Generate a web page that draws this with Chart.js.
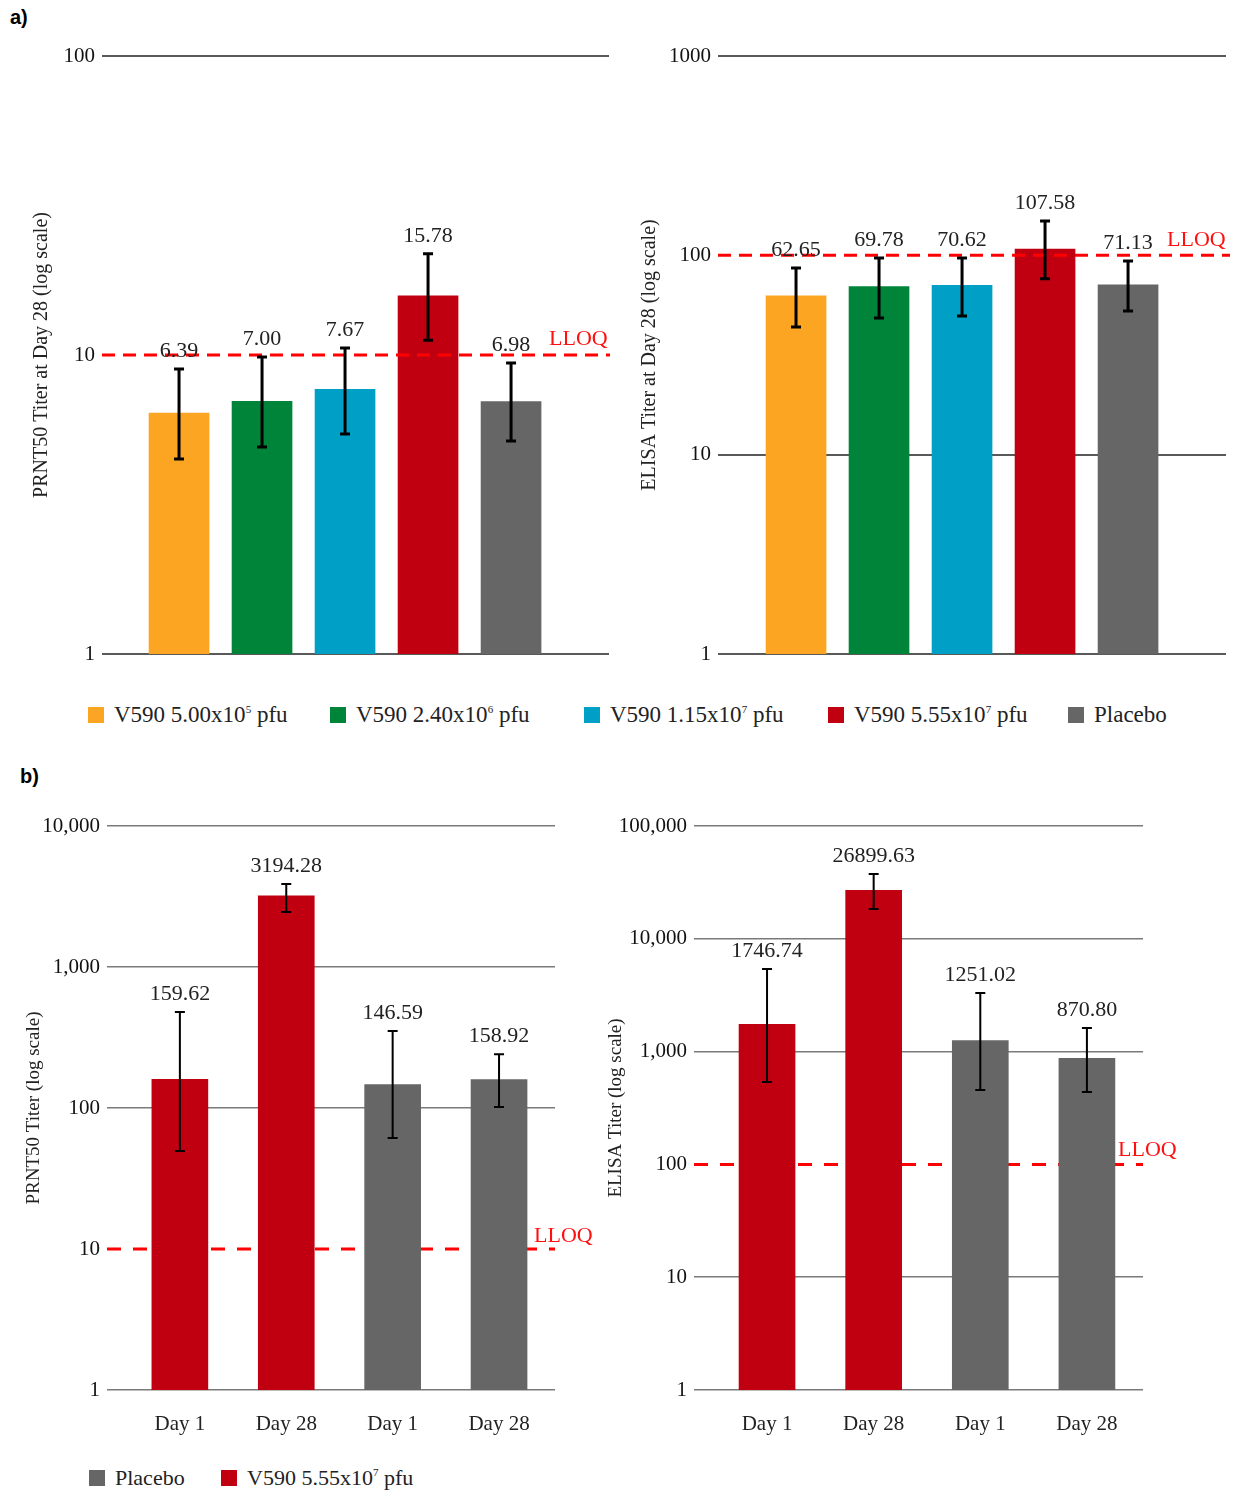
<!DOCTYPE html>
<html>
<head>
<meta charset="utf-8">
<script src="https://cdn.jsdelivr.net/npm/chart.js@4"></script>
<style>
  body { margin: 0; background: #fff; width: 1233px; height: 1491px; position: relative; overflow: hidden; font-family: 'Liberation Serif', serif; }
  canvas { position: absolute; }
  .panel { position: absolute; font-family: 'Liberation Sans', Arial, sans-serif; font-weight: bold; font-size: 20px; color: #000; }
  .legend { position: absolute; display: flex; align-items: center; color: #222; white-space: nowrap; }
  .legend .item { display: flex; align-items: center; }
  .legend .sw { width: 16px; height: 16px; display: inline-block; margin-right: 10px; }
  .legend sup { font-size: 11px; vertical-align: 9px; line-height: 0; }
</style>
</head>
<body>
<div class="panel" style="left:10px; top:6px;">a)</div>
<div class="panel" style="left:20px; top:765px;">b)</div>

<canvas id="chartA1" width="620" height="680" style="left:0; top:0;"></canvas>
<canvas id="chartA2" width="613" height="680" style="left:620px; top:0;"></canvas>
<div id="legendA" class="legend" style="left:88px; top:702px; font-size:23px;"></div>

<canvas id="chartB1" width="620" height="700" style="left:0; top:760px;"></canvas>
<canvas id="chartB2" width="633" height="700" style="left:600px; top:760px;"></canvas>
<div id="legendB" class="legend" style="left:89px; top:1465px; font-size:22px;"></div>

<script>
// a) grupos de dose, titulos no dia 28
var doseGroups = ['V590 5.00x10^5 pfu', 'V590 2.40x10^6 pfu', 'V590 1.15x10^7 pfu', 'V590 5.55x10^7 pfu', 'Placebo'];
var groupColors = ['#FBA522', '#00843A', '#00A0C6', '#C00010', '#666666'];

var prntDay28 = [6.39, 7.00, 7.67, 15.78, 6.98];
var prntDay28Low = [4.49, 4.92, 5.44, 11.2, 5.16];
var prntDay28High = [8.98, 9.85, 10.55, 21.8, 9.4];

var elisaDay28 = [62.65, 69.78, 70.62, 107.58, 71.13];
var elisaDay28Low = [43.7, 48.5, 49.6, 76.2, 52.6];
var elisaDay28High = [86.5, 97, 97, 148.8, 93.7];

// b) dia 1 vs dia 28
var visits = ['Day 1', 'Day 28', 'Day 1', 'Day 28'];
var visitGroups = ['V590 5.55x10^7 pfu', 'V590 5.55x10^7 pfu', 'Placebo', 'Placebo'];
var legendBGroups = ['Placebo', 'V590 5.55x10^7 pfu'];

var prntVisit = [159.62, 3194.28, 146.59, 158.92];
var prntVisitLow = [49.5, 2455, 61.3, 101.6];
var prntVisitHigh = [480, 3880, 352, 241];

var elisaVisit = [1746.74, 26899.63, 1251.02, 870.80];
var elisaVisitLow = [537, 18400, 457, 438];
var elisaVisitHigh = [5400, 37500, 3310, 1619];

// limites e ticks
var lloqPrnt = 10;
var lloqElisa = 100;
var ticksA1 = [1, 10, 100];
var tickLabelsA1 = ['1', '10', '100'];
var ticksA2 = [1, 10, 100, 1000];
var tickLabelsA2 = ['1', '10', '100', '1000'];
var ticksB1 = [1, 10, 100, 1000, 10000];
var tickLabelsB1 = ['1', '10', '100', '1,000', '10,000'];
var ticksB2 = [1, 10, 100, 1000, 10000, 100000];
var tickLabelsB2 = ['1', '10', '100', '1,000', '10,000', '100,000'];

var serif = "'Liberation Serif', 'Times New Roman', serif";

function colorOf(group) {
    return groupColors[doseGroups.indexOf(group)];
}

function withSup(text) {
    return text.replace(/\^(\d+)/, '<sup>$1</sup>');
}

function makeChart(id, o) {
    var ctx = document.getElementById(id).getContext('2d');

    function drawLloq(chart) {
        var c = chart.ctx;
        var a = chart.chartArea;
        var y = chart.scales.y.getPixelForValue(o.lloq);
        c.save();
        c.strokeStyle = '#ff0000';
        c.lineWidth = 3;
        c.setLineDash(o.dash);
        c.beginPath();
        c.moveTo(a.left, y);
        c.lineTo(a.right + o.lineExtra, y);
        c.stroke();
        c.setLineDash([]);
        c.fillStyle = '#ff1010';
        c.font = '22px ' + serif;
        c.textAlign = 'left';
        c.textBaseline = 'alphabetic';
        c.fillText('LLOQ', a.right + o.lloqDx, y - o.lloqDy);
        c.restore();
    }

    var extras = {
        id: 'extras',
        beforeDatasetsDraw: function (chart) {
            if (!o.lloqOnTop) drawLloq(chart);
        },
        afterDatasetsDraw: function (chart) {
            if (o.lloqOnTop) drawLloq(chart);
            var c = chart.ctx;
            var ys = chart.scales.y;
            var meta = chart.getDatasetMeta(0);
            c.save();
            c.strokeStyle = '#000';
            c.lineWidth = o.errW;
            for (var i = 0; i < o.values.length; i++) {
                var x = meta.data[i].x;
                var yh = ys.getPixelForValue(o.high[i]);
                var yl = ys.getPixelForValue(o.low[i]);
                c.beginPath();
                c.moveTo(x, yh); c.lineTo(x, yl);
                c.moveTo(x - o.cap, yh); c.lineTo(x + o.cap, yh);
                c.moveTo(x - o.cap, yl); c.lineTo(x + o.cap, yl);
                c.stroke();
                c.fillStyle = '#222';
                c.font = '22px ' + serif;
                c.textAlign = 'center';
                c.textBaseline = 'middle';
                c.fillText(o.values[i].toFixed(2), x, yh - 18);
            }
            c.restore();
        }
    };

    return new Chart(ctx, {
        type: 'bar',
        data: {
            datasets: [{
                data: o.values.map(function (v, i) { return { x: i, y: v }; }),
                backgroundColor: o.colors,
                borderWidth: 0,
                barThickness: o.barW
            }]
        },
        options: {
            responsive: false,
            animation: false,
            layout: { padding: o.pad },
            plugins: { legend: { display: false }, tooltip: { enabled: false } },
            scales: {
                x: {
                    type: 'linear',
                    min: o.xMin,
                    max: o.xMax,
                    offset: false,
                    display: !!o.cats,
                    grid: { display: false },
                    border: { display: false },
                    afterBuildTicks: function (s) {
                        s.ticks = o.values.map(function (v, i) { return { value: i }; });
                    },
                    afterFit: function (s) { s.height = o.cats ? 50 : 0; },
                    ticks: {
                        padding: 14,
                        autoSkip: false,
                        maxRotation: 0,
                        color: '#222',
                        font: { family: serif, size: 21 },
                        callback: function (v) { return o.cats ? o.cats[v] : ''; }
                    }
                },
                y: {
                    type: 'logarithmic',
                    min: o.ticks[0],
                    max: o.ticks[o.ticks.length - 1],
                    afterBuildTicks: function (s) {
                        s.ticks = o.ticks.map(function (v) { return { value: v }; });
                    },
                    afterFit: function (s) { s.width = o.yW; },
                    border: { display: false },
                    grid: {
                        drawTicks: false,
                        lineWidth: o.gridW,
                        color: function (c) {
                            return c.tick && c.tick.value === o.lloq ? 'rgba(0,0,0,0)' : o.gridColor;
                        }
                    },
                    ticks: {
                        padding: 7,
                        color: '#111',
                        font: { family: serif, size: 21 },
                        callback: function (v, i) { return o.tickLabels[i]; }
                    },
                    title: {
                        display: true,
                        text: o.title,
                        color: '#222',
                        font: { family: serif, size: o.titleSize },
                        padding: { top: o.titleOff, bottom: 0 }
                    }
                }
            }
        },
        plugins: [extras]
    });
}

makeChart('chartA1', {
    values: prntDay28, low: prntDay28Low, high: prntDay28High,
    colors: groupColors, ticks: ticksA1, tickLabels: tickLabelsA1,
    lloq: lloqPrnt, lloqOnTop: true, dash: [13, 8], lineExtra: 1, lloqDx: -60, lloqDy: 10,
    title: 'PRNT50 Titer at Day 28 (log scale)', titleSize: 20, titleOff: 30,
    xMin: -0.928, xMax: 5.18, barW: 60, yW: 102,
    pad: { top: 56, bottom: 26, left: 0, right: 11 },
    gridColor: '#595959', gridW: 2, errW: 3, cap: 5
});

makeChart('chartA2', {
    values: elisaDay28, low: elisaDay28Low, high: elisaDay28High,
    colors: groupColors, ticks: ticksA2, tickLabels: tickLabelsA2,
    lloq: lloqElisa, lloqOnTop: true, dash: [13, 8], lineExtra: 4, lloqDx: -59, lloqDy: 9,
    title: 'ELISA Titer at Day 28 (log scale)', titleSize: 20, titleOff: 18,
    xMin: -0.94, xMax: 5.18, barW: 60, yW: 98,
    pad: { top: 56, bottom: 26, left: 0, right: 7 },
    gridColor: '#595959', gridW: 2, errW: 3, cap: 5
});

makeChart('chartB1', {
    values: prntVisit, low: prntVisitLow, high: prntVisitHigh, cats: visits,
    colors: visitGroups.map(colorOf), ticks: ticksB1, tickLabels: tickLabelsB1,
    lloq: lloqPrnt, lloqOnTop: false, dash: [14, 12], lineExtra: 0, lloqDx: -21, lloqDy: 7,
    title: 'PRNT50 Titer (log scale)', titleSize: 19, titleOff: 23,
    xMin: -0.685, xMax: 3.526, barW: 56, yW: 107,
    pad: { top: 66, bottom: 20, left: 0, right: 65 },
    gridColor: '#7a7a7a', gridW: 1.5, errW: 2, cap: 5
});

makeChart('chartB2', {
    values: elisaVisit, low: elisaVisitLow, high: elisaVisitHigh, cats: visits,
    colors: visitGroups.map(colorOf), ticks: ticksB2, tickLabels: tickLabelsB2,
    lloq: lloqElisa, lloqOnTop: false, dash: [14, 12], lineExtra: 0, lloqDx: -25, lloqDy: 8,
    title: 'ELISA Titer (log scale)', titleSize: 19, titleOff: 5,
    xMin: -0.685, xMax: 3.526, barW: 56, yW: 94,
    pad: { top: 66, bottom: 20, left: 0, right: 90 },
    gridColor: '#7a7a7a', gridW: 1.5, errW: 2, cap: 5
});

// legendas em HTML (larguras dos itens seguem o espaçamento da figura)
function buildLegend(id, groups, widths) {
    var html = '';
    for (var i = 0; i < groups.length; i++) {
        var w = widths[i] ? 'width:' + widths[i] + 'px' : '';
        html += '<span class="item" style="' + w + '"><span class="sw" style="background:' +
            colorOf(groups[i]) + '"></span><span>' + withSup(groups[i]) + '</span></span>';
    }
    document.getElementById(id).innerHTML = html;
}
buildLegend('legendA', doseGroups, [242, 254, 244, 240, 0]);
buildLegend('legendB', legendBGroups, [132, 0]);
</script>
</body>
</html>
